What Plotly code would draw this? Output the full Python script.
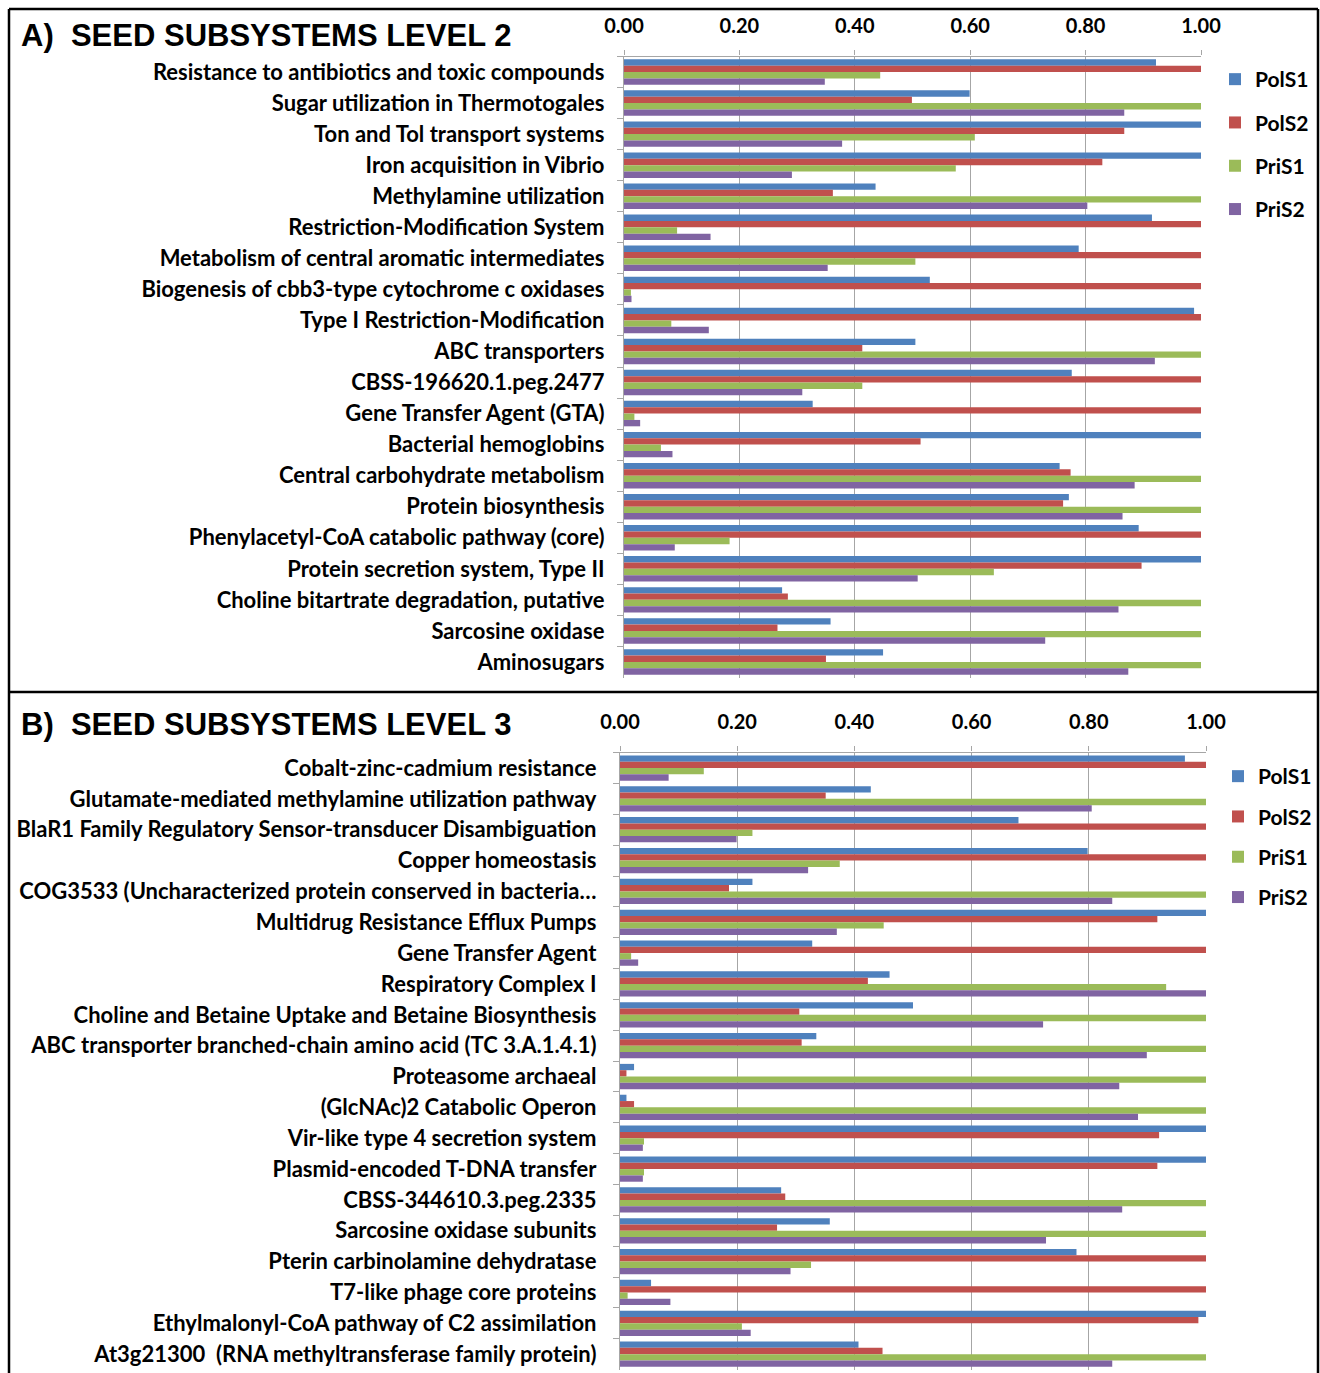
import plotly.graph_objects as go

W, H = 1320, 1373

# ---- Level 2 subsystems ----
cats_l2 = [
    "Resistance to antibiotics and toxic compounds",
    "Sugar utilization in Thermotogales",
    "Ton and Tol transport systems",
    "Iron acquisition in Vibrio",
    "Methylamine utilization",
    "Restriction-Modification System",
    "Metabolism of central aromatic intermediates",
    "Biogenesis of cbb3-type cytochrome c oxidases",
    "Type I Restriction-Modification",
    "ABC transporters",
    "CBSS-196620.1.peg.2477",
    "Gene Transfer Agent (GTA)",
    "Bacterial hemoglobins",
    "Central carbohydrate metabolism",
    "Protein biosynthesis",
    "Phenylacetyl-CoA catabolic pathway (core)",
    "Protein secretion system, Type II",
    "Choline bitartrate degradation, putative",
    "Sarcosine oxidase",
    "Aminosugars",
]
pols1_l2 = [0.922, 0.599, 1.00, 1.00, 0.436, 0.915, 0.788, 0.530, 0.988, 0.505,
            0.776, 0.327, 1.00, 0.755, 0.771, 0.892, 1.00, 0.274, 0.358, 0.449]
pols2_l2 = [1.00, 0.499, 0.867, 0.829, 0.362, 1.00, 1.00, 1.00, 1.00, 0.413,
            1.00, 1.00, 0.514, 0.774, 0.761, 1.00, 0.897, 0.284, 0.266, 0.350]
pris1_l2 = [0.444, 1.00, 0.608, 0.575, 1.00, 0.092, 0.505, 0.012, 0.082, 1.00,
            0.413, 0.018, 0.064, 1.00, 1.00, 0.183, 0.641, 1.00, 1.00, 1.00]
pris2_l2 = [0.348, 0.867, 0.378, 0.291, 0.803, 0.150, 0.353, 0.013, 0.147, 0.920,
            0.309, 0.028, 0.084, 0.885, 0.864, 0.088, 0.509, 0.857, 0.730, 0.874]

# ---- Level 3 subsystems ----
cats_l3 = [
    "Cobalt-zinc-cadmium resistance",
    "Glutamate-mediated methylamine utilization pathway",
    "BlaR1 Family Regulatory Sensor-transducer Disambiguation",
    "Copper homeostasis",
    "COG3533 (Uncharacterized protein conserved in bacteria\u2026",
    "Multidrug Resistance Efflux Pumps",
    "Gene Transfer Agent",
    "Respiratory Complex I",
    "Choline and Betaine Uptake and Betaine Biosynthesis",
    "ABC transporter branched-chain amino acid (TC 3.A.1.4.1)",
    "Proteasome archaeal",
    "(GlcNAc)2 Catabolic Operon",
    "Vir-like type 4 secretion system",
    "Plasmid-encoded T-DNA transfer",
    "CBSS-344610.3.peg.2335",
    "Sarcosine oxidase subunits",
    "Pterin carbinolamine dehydratase",
    "T7-like phage core proteins",
    "Ethylmalonyl-CoA pathway of C2 assimilation",
    "At3g21300  (RNA methyltransferase family protein)",
]
pols1_l3 = [0.964, 0.428, 0.680, 0.798, 0.226, 1.00, 0.328, 0.460, 0.500, 0.335,
            0.024, 0.011, 1.00, 1.00, 0.275, 0.358, 0.779, 0.053, 1.00, 0.407]
pols2_l3 = [1.00, 0.351, 1.00, 1.00, 0.186, 0.917, 1.00, 0.423, 0.306, 0.310,
            0.011, 0.024, 0.920, 0.917, 0.282, 0.268, 1.00, 1.00, 0.987, 0.448]
pris1_l3 = [0.143, 1.00, 0.226, 0.375, 1.00, 0.450, 0.019, 0.932, 1.00, 1.00,
            1.00, 1.00, 0.041, 0.041, 1.00, 1.00, 0.326, 0.013, 0.208, 1.00]
pris2_l3 = [0.083, 0.805, 0.199, 0.321, 0.840, 0.370, 0.031, 1.00, 0.722, 0.899,
            0.852, 0.884, 0.039, 0.039, 0.857, 0.727, 0.291, 0.086, 0.223, 0.840]

series_names = ["PolS1", "PolS2", "PriS1", "PriS2"]
series_colors = ["#4F81BD", "#C0504D", "#9BBB59", "#8064A2"]
x_ticks = [0.0, 0.2, 0.4, 0.6, 0.8, 1.0]

LABEL_FONT = dict(family="Lato", size=22, color="#000000", weight="bold")
TICK_FONT = dict(family="Lato", size=20, color="#000000", weight="bold")
LEGEND_FONT = dict(family="Lato", size=21, color="#000000", weight="bold")


def px_x(x):
    return x / W


def px_y(y):
    return 1 - y / H


fig = go.Figure()

panels = [
    (cats_l2, [pols1_l2, pols2_l2, pris1_l2, pris2_l2], "x", "y", "legend"),
    (cats_l3, [pols1_l3, pols2_l3, pris1_l3, pris2_l3], "x2", "y2", "legend2"),
]
for cats, vals, xa, ya, lg in panels:
    for name, color, v in zip(series_names, series_colors, vals):
        fig.add_trace(go.Bar(
            y=cats, x=v, name=name, orientation="h",
            marker=dict(color=color, line=dict(width=0)),
            xaxis=xa, yaxis=ya, legend=lg, legendgroup=lg + name,
        ))

axis_common_x = dict(
    range=[0, 1], side="top", tickvals=x_ticks, tickformat=".2f",
    showgrid=True, gridcolor="#A6A6A6", gridwidth=1.3,
    showline=True, linecolor="#A6A6A6", linewidth=1.3,
    ticks="outside", ticklen=5, tickcolor="#A6A6A6",
    tickfont=TICK_FONT, ticklabelstandoff=9, zeroline=False,
    fixedrange=True, automargin=False,
)
axis_common_y = dict(
    autorange="reversed", type="category",
    showline=True, linecolor="#A6A6A6", linewidth=1.3,
    ticks="outside", ticklen=6, tickcolor="#A6A6A6", tickson="boundaries",
    tickfont=LABEL_FONT, showgrid=False, fixedrange=True, automargin=False,
)

fig.update_layout(
    width=W, height=H, autosize=False,
    margin=dict(l=0, r=0, t=0, b=0, autoexpand=False),
    paper_bgcolor="white", plot_bgcolor="white",
    barmode="group", bargap=0.18, bargroupgap=0.0,
    xaxis=dict(axis_common_x, domain=[px_x(624), px_x(1201)], anchor="y"),
    yaxis=dict(axis_common_y, domain=[px_y(677.5), px_y(56.5)], anchor="x",
               ticklabelstandoff=14),
    xaxis2=dict(axis_common_x, domain=[px_x(620), px_x(1206)], anchor="y2"),
    yaxis2=dict(axis_common_y, domain=[px_y(1369.6), px_y(752.6)], anchor="x2",
                ticklabelstandoff=18),
    legend=dict(x=px_x(1215), y=px_y(59), xanchor="left", yanchor="top",
                font=LEGEND_FONT, tracegroupgap=13,
                bgcolor="rgba(0,0,0,0)", itemclick=False),
    legend2=dict(x=px_x(1218), y=px_y(756), xanchor="left", yanchor="top",
                 font=LEGEND_FONT, tracegroupgap=10,
                 bgcolor="rgba(0,0,0,0)", itemclick=False),
    showlegend=True,
)

# Panel frames
frame = dict(type="line", xref="paper", yref="paper",
             line=dict(color="#000000", width=2.5))
fig.add_shape(frame, x0=px_x(9), x1=px_x(1318), y0=px_y(9), y1=px_y(9))
fig.add_shape(frame, x0=px_x(9), x1=px_x(1318), y0=px_y(692), y1=px_y(692))
fig.add_shape(frame, x0=px_x(9), x1=px_x(9), y0=px_y(9), y1=px_y(H + 5))
fig.add_shape(frame, x0=px_x(1318), x1=px_x(1318), y0=px_y(9), y1=px_y(H + 5))

# Panel titles
title_font = dict(family="Liberation Sans", size=31, color="#000000", weight="bold")
for txt, yc in [("A)&#160;&#160;SEED SUBSYSTEMS LEVEL 2", 36),
                ("B)&#160;&#160;SEED SUBSYSTEMS LEVEL 3", 724)]:
    fig.add_annotation(text=txt, xref="paper", yref="paper",
                       x=px_x(19), y=px_y(yc), xanchor="left", yanchor="middle",
                       showarrow=False, font=title_font)

fig.write_html("out.html")
